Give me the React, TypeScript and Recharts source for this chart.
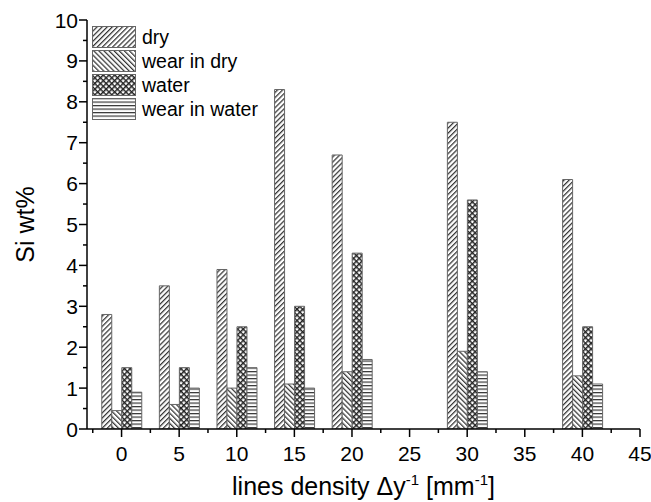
import React from 'react';
import { Bar, BarChart, Label, XAxis, YAxis } from 'recharts';

// Si content, per line density
const densities = [0, 5, 10, 15, 20, 30, 40];
const dry = [2.8, 3.5, 3.9, 8.3, 6.7, 7.5, 6.1];
const wearInDry = [0.45, 0.6, 1.0, 1.1, 1.4, 1.9, 1.3];
const water = [1.5, 1.5, 2.5, 3.0, 4.3, 5.6, 2.5];
const wearInWater = [0.9, 1.0, 1.5, 1.0, 1.7, 1.4, 1.1];

const seriesNames = ['dry', 'wear in dry', 'water', 'wear in water'];
const seriesKeys = ['dry', 'wearInDry', 'water', 'wearInWater'];

const xMajor = [0, 5, 10, 15, 20, 25, 30, 35, 40, 45];
const xMinor = [-2.5, 2.5, 7.5, 12.5, 17.5, 22.5, 27.5, 32.5, 37.5, 42.5];
const yMajor = [0, 1, 2, 3, 4, 5, 6, 7, 8, 9, 10];
const yMinor = [0.5, 1.5, 2.5, 3.5, 4.5, 5.5, 6.5, 7.5, 8.5, 9.5];

const data = densities.map((d, i) => ({
  x: d,
  dry: dry[i],
  wearInDry: wearInDry[i],
  water: water[i],
  wearInWater: wearInWater[i],
}));

const FONT = '"Liberation Sans", Arial, sans-serif';

function Patterns({ prefix }: { prefix: string }) {
  return (
    <defs>
      <pattern id={prefix + 'dry'} width="3.6" height="3.6" patternUnits="userSpaceOnUse" patternTransform="rotate(45)">
        <rect width="3.6" height="3.6" fill="#fff" />
        <line x1="0.6" y1="0" x2="0.6" y2="3.6" stroke="#333" strokeWidth="1.3" />
      </pattern>
      <pattern id={prefix + 'wearInDry'} width="3.6" height="3.6" patternUnits="userSpaceOnUse" patternTransform="rotate(-45)">
        <rect width="3.6" height="3.6" fill="#fff" />
        <line x1="0.6" y1="0" x2="0.6" y2="3.6" stroke="#333" strokeWidth="1.3" />
      </pattern>
      <pattern id={prefix + 'water'} width="4" height="4" patternUnits="userSpaceOnUse" patternTransform="rotate(45)">
        <rect width="4" height="4" fill="#fff" />
        <line x1="0.7" y1="0" x2="0.7" y2="4" stroke="#222" strokeWidth="1.5" />
        <line x1="0" y1="0.7" x2="4" y2="0.7" stroke="#222" strokeWidth="1.5" />
      </pattern>
      <pattern id={prefix + 'wearInWater'} width="4" height="3.5" patternUnits="userSpaceOnUse">
        <rect width="4" height="3.5" fill="#fff" />
        <line x1="0" y1="0.6" x2="4" y2="0.6" stroke="#333" strokeWidth="1.2" />
      </pattern>
    </defs>
  );
}

const BottomTick = (props: any) => {
  const { x, y, payload } = props;
  const major = xMajor.includes(payload.value);
  return (
    <g>
      <line x1={x} y1={y} x2={x} y2={y + (major ? 8 : 4)} stroke="#000" strokeWidth={1.5} />
      {major && (
        <text x={x} y={y + 32} textAnchor="middle" fontSize={21} fill="#000">
          {payload.value}
        </text>
      )}
    </g>
  );
};

const TopTick = (props: any) => {
  const { x, y, payload } = props;
  const major = xMajor.includes(payload.value);
  return <line x1={x} y1={y} x2={x} y2={y + (major ? 8 : 4)} stroke="#000" strokeWidth={1.5} />;
};

const LeftTick = (props: any) => {
  const { x, y, payload } = props;
  const major = yMajor.includes(payload.value);
  return (
    <g>
      <line x1={x} y1={y} x2={x - (major ? 8 : 4)} y2={y} stroke="#000" strokeWidth={1.5} />
      {major && (
        <text x={x - 9} y={y + 7.5} textAnchor="end" fontSize={21} fill="#000">
          {payload.value}
        </text>
      )}
    </g>
  );
};

const RightTick = (props: any) => {
  const { x, y, payload } = props;
  const major = yMajor.includes(payload.value);
  return <line x1={x} y1={y} x2={x - (major ? 8 : 4)} y2={y} stroke="#000" strokeWidth={1.5} />;
};

const XTitle = (props: any) => {
  const { viewBox } = props;
  const cx = viewBox.x + viewBox.width / 2;
  return (
    <text x={cx} y={viewBox.y + 66} textAnchor="middle" fontSize={25} fill="#000">
      <tspan>lines density Δy</tspan>
      <tspan fontSize={15} dy={-10}>-1</tspan>
      <tspan dy={10}> [mm</tspan>
      <tspan fontSize={15} dy={-10}>-1</tspan>
      <tspan dy={10}>]</tspan>
    </text>
  );
};

const YTitle = (props: any) => {
  const { viewBox } = props;
  const cx = viewBox.x + 34;
  const cy = viewBox.y + viewBox.height / 2;
  return (
    <text x={cx} y={cy} textAnchor="middle" fontSize={25} fill="#000" transform={`rotate(-90 ${cx} ${cy})`}>
      Si wt%
    </text>
  );
};

function LegendBox() {
  return (
    <div style={{ position: 'absolute', left: 92, top: 25 }}>
      {seriesNames.map((name, i) => (
        <div key={name} style={{ display: 'flex', alignItems: 'center', height: 24 }}>
          <svg width={44} height={22} style={{ display: 'block' }}>
            {i === 0 && <Patterns prefix="lg-" />}
            <rect x={0.5} y={0.5} width={43} height={21} fill={`url(#lg-${seriesKeys[i]})`} stroke="#666" strokeWidth={1} />
          </svg>
          <span style={{ marginLeft: 6, fontSize: 19.5, color: '#000', lineHeight: '22px' }}>{name}</span>
        </div>
      ))}
    </div>
  );
}

export default function App() {
  return (
    <div style={{ position: 'absolute', left: 0, top: 0, width: 651, height: 502, background: '#fff', fontFamily: FONT }}>
      <BarChart width={651} height={502} data={data} margin={{ top: 20, right: 11, left: 0, bottom: 0 }} barGap={0} barCategoryGap={0}>
        <Patterns prefix="p-" />
        <XAxis
          xAxisId="bottom"
          dataKey="x"
          type="number"
          domain={[-3, 45]}
          ticks={[...xMajor, ...xMinor].sort((a, b) => a - b)}
          interval={0}
          height={73}
          tickSize={0}
          tickMargin={0}
          tick={BottomTick}
          tickLine={false}
          axisLine={{ stroke: '#000', strokeWidth: 1.5 }}
          allowDataOverflow
        >
          <Label content={XTitle} />
        </XAxis>
        <XAxis
          xAxisId="top"
          orientation="top"
          dataKey="x"
          type="number"
          domain={[-3, 45]}
          ticks={[...xMajor, ...xMinor].sort((a, b) => a - b)}
          interval={0}
          height={0}
          tickSize={0}
          tickMargin={0}
          tick={TopTick}
          tickLine={false}
          axisLine={{ stroke: '#000', strokeWidth: 1.5 }}
          allowDataOverflow
        />
        <YAxis
          yAxisId="left"
          type="number"
          domain={[0, 10]}
          ticks={[...yMajor, ...yMinor].sort((a, b) => a - b)}
          interval={0}
          width={87}
          tickSize={0}
          tickMargin={0}
          tick={LeftTick}
          tickLine={false}
          axisLine={{ stroke: '#000', strokeWidth: 1.5 }}
          allowDataOverflow
        >
          <Label content={YTitle} />
        </YAxis>
        <YAxis
          yAxisId="right"
          orientation="right"
          type="number"
          domain={[0, 10]}
          ticks={[...yMajor, ...yMinor].sort((a, b) => a - b)}
          interval={0}
          width={0}
          tickSize={0}
          tickMargin={0}
          tick={RightTick}
          tickLine={false}
          axisLine={{ stroke: '#000', strokeWidth: 1.5 }}
          allowDataOverflow
        />
        {seriesKeys.map((k, i) => (
          <Bar
            key={k}
            dataKey={k}
            name={seriesNames[i]}
            xAxisId="bottom"
            yAxisId="left"
            barSize={10}
            fill={`url(#p-${k})`}
            stroke="#666"
            strokeWidth={1}
            isAnimationActive={false}
          />
        ))}
      </BarChart>
      <LegendBox />
    </div>
  );
}
